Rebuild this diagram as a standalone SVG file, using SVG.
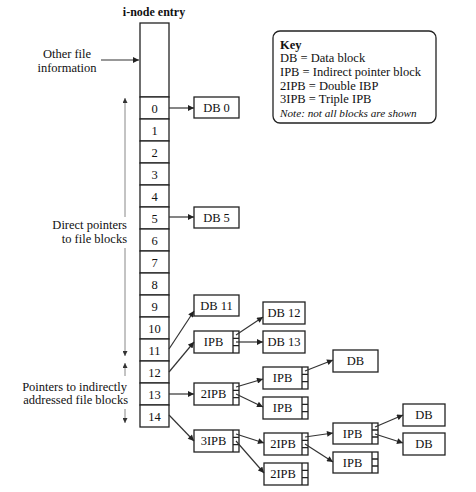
<svg xmlns="http://www.w3.org/2000/svg" width="476" height="492" viewBox="0 0 476 492">
<defs>
<style>
.lbl{font-size:12.5px;text-anchor:middle;}
.num{font-size:12.5px;text-anchor:middle;}
.side{font-size:12.5px;}
.box{fill:#fff;stroke:#222;stroke-width:1.3;}
.slot{fill:none;stroke:#222;stroke-width:1.3;}
.arr{fill:none;stroke:#333;stroke-width:1.2;marker-end:url(#ah);}
.spanA{fill:none;stroke:#888;stroke-width:1;marker-end:url(#ahs);}
</style>
<marker id="ah" viewBox="0 0 10 10" refX="10" refY="5" markerWidth="7" markerHeight="6" markerUnits="userSpaceOnUse" orient="auto">
<path d="M0,0 L10,5 L0,10 z" fill="#222"/>
</marker>
<marker id="ahs" viewBox="0 0 10 10" refX="10" refY="5" markerWidth="6" markerHeight="5" markerUnits="userSpaceOnUse" orient="auto">
<path d="M0,0 L10,5 L0,10 z" fill="#333"/>
</marker>
</defs>
<rect width="476" height="492" fill="#fff"/>
<g font-family="'Liberation Serif', 'DejaVu Serif', serif" fill="#111">

<g id="inode">
<text x="154" y="16" font-size="12px" text-anchor="middle" font-weight="bold">i-node entry</text>
<rect class="box" x="140" y="23" width="29" height="74"/>
<rect class="box" x="140" y="97" width="29" height="22"/><text class="num" x="154.5" y="112.5">0</text>
<rect class="box" x="140" y="119" width="29" height="22"/><text class="num" x="154.5" y="134.5">1</text>
<rect class="box" x="140" y="141" width="29" height="22"/><text class="num" x="154.5" y="156.5">2</text>
<rect class="box" x="140" y="163" width="29" height="22"/><text class="num" x="154.5" y="178.5">3</text>
<rect class="box" x="140" y="185" width="29" height="22"/><text class="num" x="154.5" y="200.5">4</text>
<rect class="box" x="140" y="207" width="29" height="22"/><text class="num" x="154.5" y="222.5">5</text>
<rect class="box" x="140" y="229" width="29" height="22"/><text class="num" x="154.5" y="244.5">6</text>
<rect class="box" x="140" y="251" width="29" height="22"/><text class="num" x="154.5" y="266.5">7</text>
<rect class="box" x="140" y="273" width="29" height="22"/><text class="num" x="154.5" y="288.5">8</text>
<rect class="box" x="140" y="295" width="29" height="22"/><text class="num" x="154.5" y="310.5">9</text>
<rect class="box" x="140" y="317" width="29" height="22"/><text class="num" x="154.5" y="332.5">10</text>
<rect class="box" x="140" y="339" width="29" height="22"/><text class="num" x="154.5" y="354.5">11</text>
<rect class="box" x="140" y="361" width="29" height="22"/><text class="num" x="154.5" y="376.5">12</text>
<rect class="box" x="140" y="383" width="29" height="22"/><text class="num" x="154.5" y="398.5">13</text>
<rect class="box" x="140" y="405" width="29" height="22"/><text class="num" x="154.5" y="420.5">14</text>
</g>

<g id="labels">
<text class="side" x="67" y="58" text-anchor="middle">Other file</text>
<text class="side" x="67" y="72" text-anchor="middle">information</text>
<text class="side" x="127" y="229" text-anchor="end">Direct pointers</text>
<text class="side" x="127" y="243" text-anchor="end">to file blocks</text>
<text class="side" x="127" y="391" text-anchor="end">Pointers to indirectly</text>
<text class="side" x="128" y="404" text-anchor="end">addressed file blocks</text>
</g>

<g id="key">
<rect x="273" y="31" width="163" height="92" rx="7" ry="7" fill="#fff" stroke="#222" stroke-width="1.3"/>
<text x="280" y="49" class="side" font-weight="bold">Key</text>
<text x="280" y="62" class="side">DB = Data block</text>
<text x="280" y="76" class="side">IPB = Indirect pointer block</text>
<text x="280" y="90" class="side">2IPB = Double IBP</text>
<text x="280" y="103" class="side">3IPB = Triple IPB</text>
<text x="280" y="117" font-size="11.2px" font-style="italic">Note: not all blocks are shown</text>
</g>

<g id="db0"><rect class="box" x="194" y="97" width="45" height="21"/><text class="lbl" x="216.5" y="112">DB 0</text></g>
<g id="db5"><rect class="box" x="194" y="207" width="45" height="21"/><text class="lbl" x="216.5" y="222">DB 5</text></g>
<g id="db11"><rect class="box" x="194" y="295" width="45" height="21"/><text class="lbl" x="216.5" y="310">DB 11</text></g>
<g id="ipb1"><rect class="box" x="194" y="331" width="45" height="22"/><path class="slot" d="M233,331 V353 M233,338.3 H239 M233,345.7 H239"/><text class="lbl" x="213.5" y="346">IPB</text></g>
<g id="db12"><rect class="box" x="263" y="302" width="42" height="22"/><text class="lbl" x="284" y="317">DB 12</text></g>
<g id="db13"><rect class="box" x="263" y="331" width="42" height="22"/><text class="lbl" x="284" y="346">DB 13</text></g>
<g id="ipb2a"><rect class="box" x="194" y="383" width="45" height="22"/><path class="slot" d="M233,383 V405 M233,390.3 H239 M233,397.7 H239"/><text class="lbl" x="213.5" y="398">2IPB</text></g>
<g id="ipb2b"><rect class="box" x="263" y="367" width="45" height="22"/><path class="slot" d="M302,367 V389 M302,374.3 H308 M302,381.7 H308"/><text class="lbl" x="282.5" y="382">IPB</text></g>
<g id="ipb2c"><rect class="box" x="263" y="397" width="45" height="22"/><path class="slot" d="M302,397 V419 M302,404.3 H308 M302,411.7 H308"/><text class="lbl" x="282.5" y="412">IPB</text></g>
<g id="dbA"><rect class="box" x="333" y="350" width="45" height="22"/><text class="lbl" x="355.5" y="365">DB</text></g>
<g id="ipb3a"><rect class="box" x="194" y="430" width="45" height="22"/><path class="slot" d="M233,430 V452 M233,437.3 H239 M233,444.7 H239"/><text class="lbl" x="213.5" y="445">3IPB</text></g>
<g id="ipb3b"><rect class="box" x="264" y="433" width="44" height="22"/><path class="slot" d="M302,433 V455 M302,440.3 H308 M302,447.7 H308"/><text class="lbl" x="283" y="448">2IPB</text></g>
<g id="ipb3c"><rect class="box" x="264" y="463" width="44" height="22"/><path class="slot" d="M302,463 V485 M302,470.3 H308 M302,477.7 H308"/><text class="lbl" x="283" y="478">2IPB</text></g>
<g id="ipb3d"><rect class="box" x="333" y="423" width="45" height="21"/><path class="slot" d="M372,423 V444 M372,430 H378 M372,437 H378"/><text class="lbl" x="352.5" y="438">IPB</text></g>
<g id="ipb3e"><rect class="box" x="333" y="452" width="45" height="21"/><path class="slot" d="M372,452 V473 M372,459 H378 M372,466 H378"/><text class="lbl" x="352.5" y="467">IPB</text></g>
<g id="dbB"><rect class="box" x="403" y="404" width="42" height="22"/><text class="lbl" x="424" y="419">DB</text></g>
<g id="dbC"><rect class="box" x="403" y="433" width="42" height="22"/><text class="lbl" x="424" y="448">DB</text></g>
</g>

<g id="connectors">
<path class="arr" d="M101,60 H139"/>
<path class="spanA" d="M125,217 V98"/>
<path class="spanA" d="M125,248 V356"/>
<path class="spanA" d="M125,376 V363"/>
<path class="spanA" d="M125,409 V423"/>
<path class="arr" d="M169,108 H194"/>
<path class="arr" d="M169,217 H194"/>
<path class="arr" d="M169,349 L194,311"/>
<path class="arr" d="M169,372 L194,342"/>
<path class="arr" d="M169,394 H194"/>
<path class="arr" d="M169,415 L194,441"/>
<path class="arr" d="M236,335 L263,317"/>
<path class="arr" d="M236,342 H263"/>
<path class="arr" d="M236,387 L263,379"/>
<path class="arr" d="M236,394 L263,407"/>
<path class="arr" d="M305,371 L333,360"/>
<path class="arr" d="M236,434 L264,443"/>
<path class="arr" d="M236,441 L264,473"/>
<path class="arr" d="M305,437 L333,433"/>
<path class="arr" d="M305,444 L333,462"/>
<path class="arr" d="M375,427 L403,415"/>
<path class="arr" d="M375,434 L403,443"/>
</g>
</svg>
